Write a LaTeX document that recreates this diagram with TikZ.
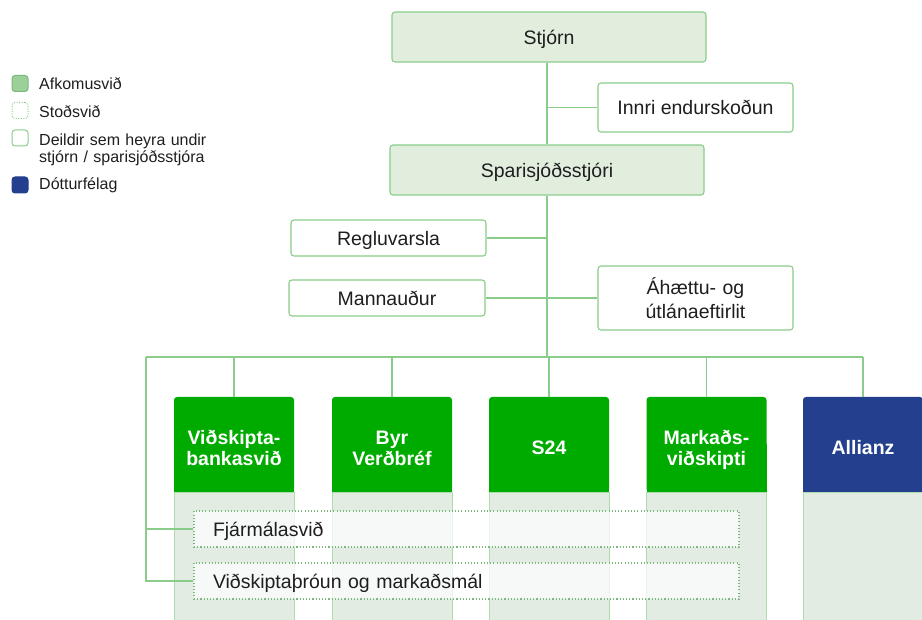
\documentclass[tikz,border=0pt]{standalone}
\usepackage{fontspec}
\setmainfont{Liberation Sans}
\definecolor{lg}{HTML}{8ACD8A}
\definecolor{boxfill}{HTML}{E1EEDE}
\definecolor{colbody}{HTML}{E2ECE3}
\definecolor{hdrgreen}{HTML}{00AB00}
\definecolor{hdrblue}{HTML}{243F8E}
\definecolor{legfill}{HTML}{9BD098}
\definecolor{txt}{HTML}{1E1E1E}
\begin{document}
\begin{tikzpicture}[x=1pt,y=-1pt,
  conn/.style={draw=lg, line width=1.1pt},
  mainfont/.style={font=\fontsize{19.5}{24}\selectfont, text=txt},
  oneline/.style={text height=15pt, text depth=0pt},
  unitbox/.style={mainfont, oneline, draw=lg, fill=boxfill, rounded corners=3pt, line width=1.1pt, align=center, inner sep=0pt},
  deptbox/.style={mainfont, oneline, draw=lg, fill=white, rounded corners=3pt, line width=1.1pt, align=center, inner sep=0pt},
  hdr/.style={font=\bfseries\fontsize{19.5}{21}\selectfont, text=white, text width=112pt, align=center, inner sep=0pt, rounded corners=3pt, minimum width=120pt, minimum height=95pt},
  hdrone/.style={hdr, text height=20pt, text depth=0pt},
  hdrtwo/.style={hdr, text height=10pt, text depth=10pt},
  colbox/.style={fill=colbody, draw=lg!70, line width=0.8pt},
  supportbox/.style={mainfont, oneline, draw=lg!90!black, dash pattern=on 1.1pt off 2.1pt, line width=1.1pt, fill=white, fill opacity=0.72, text opacity=1, minimum width=545pt, minimum height=36pt, text width=507pt, inner xsep=19pt, inner ysep=0pt, align=left},
  legsq/.style={minimum width=16pt, minimum height=16pt, rounded corners=3pt, line width=1pt, inner sep=0pt},
  legtext/.style={font=\fontsize{16}{16.5}\selectfont, text=txt, anchor=west, inner sep=0pt, text height=12pt, text depth=0pt}
]
\useasboundingbox (0,0) rectangle (922,620);
\clip (0,0) rectangle (922,620);

% --- legend ---
\node[legsq, fill=legfill, draw=lg!90!black] (lg1) at (20,83.5) {};
\node[legtext] (lt1) at (39,83.5) {Afkomusvið};
\node[legsq, fill=white, draw=lg, dash pattern=on 1pt off 1.5pt] (lg2) at (20,110.5) {};
\node[legtext] (lt2) at (39,112) {Stoðsvið};
\node[legsq, fill=white, draw=lg] (lg3) at (20,138) {};
\node[legtext, text width=200pt, align=left, text height=0pt, text depth=16.5pt] (lt3) at (39,154.25) {Deildir sem heyra undir\\stjórn / sparisjóðsstjóra};
\node[legsq, fill=hdrblue, draw=hdrblue] (lg4) at (20,185) {};
\node[legtext] (lt4) at (39,184) {Dótturfélag};

% --- top of the hierarchy ---
\node[unitbox, minimum width=314pt, minimum height=50pt] (stjorn) at (549,37) {Stjórn};
\node[deptbox, minimum width=195pt, minimum height=49pt] (innri) at (695.5,107.5) {Innri endurskoðun};
\node[unitbox, minimum width=314pt, minimum height=50pt] (spari) at (547,170) {Sparisjóðsstjóri};
\node[deptbox, minimum width=195pt, minimum height=36pt] (regl) at (388.5,238) {Regluvarsla};
\node[deptbox, minimum width=196pt, minimum height=36pt] (mann) at (387,298) {Mannauður};
\node[deptbox, text width=180pt, text height=10pt, text depth=16pt, minimum width=195pt, minimum height=64pt] (aha) at (695.5,298) {Áhættu- og\\útlánaeftirlit};

\coordinate (busL) at (146,357);
\coordinate (busR) at (863,357);

\draw[conn] (stjorn.south -| spari.north) -- (spari.north);
\draw[conn] (innri.west) -- (innri.west -| spari.north);
\draw[conn] (spari.south) -- (spari.south |- busL);
\draw[conn] (regl.east) -- (regl.east -| spari.south);
\draw[conn] (mann.east) -- (aha.west);
\draw[conn] (busL) -- (busR);

% --- column bodies, with the lower header corners kept square ---
\foreach \cx/\hc in {234/hdrgreen, 392/hdrgreen, 549/hdrgreen, 706.5/hdrgreen, 863/hdrblue}{
  \path[colbox] (\cx-60,492) rectangle (\cx+60,630);
  \fill[\hc] (\cx-60,444) rectangle (\cx+60,492);
}

% --- column headers ---
\node[hdrtwo, fill=hdrgreen] (h1) at (234,444.5) {Viðskipta-\\bankasvið};
\node[hdrtwo, fill=hdrgreen] (h2) at (392,444.5) {Byr\\Verðbréf};
\node[hdrone, fill=hdrgreen] (h3) at (549,444.5) {S24};
\node[hdrtwo, fill=hdrgreen] (h4) at (706.5,444.5) {Markaðs-\\viðskipti};
\node[hdrone, fill=hdrblue] (h5) at (863,444.5) {Allianz};

\foreach \h in {h1,h2,h3,h4,h5}{
  \draw[conn] (\h.north |- busL) -- (\h.north);
}

% --- support functions spanning the columns ---
\node[supportbox] (fin) at (466.5,529) {Fjármálasvið};
\node[supportbox] (vid) at (466.5,581) {Viðskiptaþróun og markaðsmál};
\draw[conn] (busL) |- (fin.west);
\draw[conn] (busL) |- (vid.west);
\end{tikzpicture}
\end{document}
